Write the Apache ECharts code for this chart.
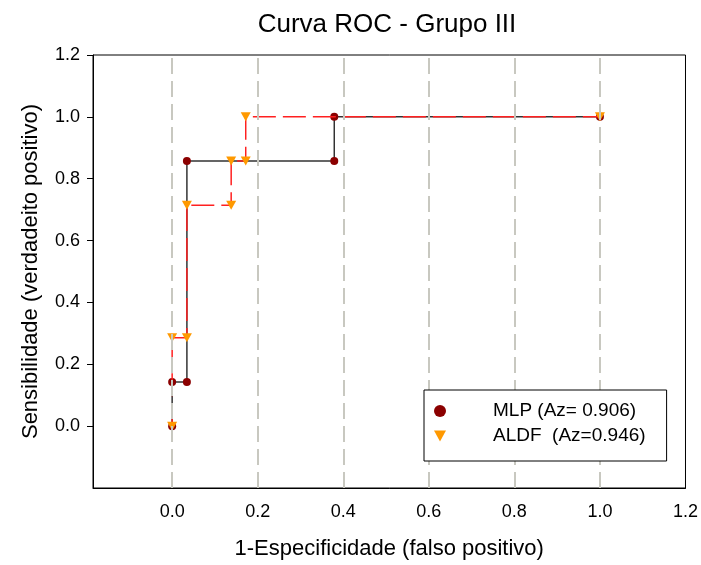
<!DOCTYPE html>
<html><head><meta charset="utf-8">
<script src="https://cdn.jsdelivr.net/npm/echarts@6/dist/echarts.min.js"></script>
<style>html,body{margin:0;padding:0;background:#fff}#c{width:701px;height:565px}</style>
</head><body><div id="c"></div>
<script>
var mlpX = [0, 0, 0.0345, 0.0345, 0.379, 0.379, 1.0];
var mlpY = [0, 0.143, 0.143, 0.857, 0.857, 1.0, 1.0];
var aldfX = [0, 0, 0.0345, 0.0345, 0.138, 0.138, 0.172, 0.172, 1.0];
var aldfY = [0, 0.286, 0.286, 0.714, 0.714, 0.857, 0.857, 1.0, 1.0];
var xTicks = [0, 0.2, 0.4, 0.6, 0.8, 1.0, 1.2];
var xGridLines = [0, 0.2, 0.4, 0.6, 0.8, 1.0];
var seriesNames = ['MLP (Az= 0.906)', 'ALDF  (Az=0.946)'];
var titleText = 'Curva ROC - Grupo III';
var xName = '1-Especificidade (falso positivo)';
var yName = 'Sensibilidade (verdadeito positivo)';

function pairs(xs, ys){ return xs.map(function(x,i){ return [x, ys[i]]; }); }
var tri = 'path://M0,0 L10,0 L5,9 Z';
var font = 'Liberation Sans, Arial, sans-serif';
var chart = echarts.init(document.getElementById('c'));
chart.setOption({
  animation: false,
  title: { text: titleText, left: 382, textAlign: 'center', top: 7,
    textStyle: { fontFamily: font, fontSize: 26, fontWeight: 'normal', color: '#000' } },
  grid: { left: 93, right: 15, top: 55, bottom: 77, show: true, borderColor: '#000', borderWidth: 1 },
  legend: {
    left: 424, top: 390, orient: 'vertical', z: 10,
    padding: [11, 21, 15, 10], itemGap: 5, itemWidth: 12, itemHeight: 12,
    borderColor: '#000', borderWidth: 1, backgroundColor: '#fff',
    textStyle: { fontFamily: font, fontSize: 19, lineHeight: 20, color: '#000', padding: [0, 0, 0, 42] },
    data: [
      { name: seriesNames[0], icon: 'circle', itemStyle: { color: '#8b0000' } },
      { name: seriesNames[1], icon: tri, itemStyle: { color: '#ff9900' } }
    ]
  },
  xAxis: {
    type: 'value', min: -0.185, max: 1.2,
    name: xName, nameLocation: 'middle', nameGap: 50,
    nameTextStyle: { fontFamily: font, fontSize: 22, color: '#000' },
    axisLine: { onZero: false, lineStyle: { color: '#000', width: 1 } },
    axisTick: { inside: true, length: 7, customValues: xTicks, lineStyle: { color: '#000' } },
    axisLabel: { fontFamily: font, fontSize: 18, color: '#000', margin: 15, customValues: xTicks,
      formatter: function(v){ return v.toFixed(1); } },
    splitLine: { show: false }
  },
  yAxis: {
    type: 'value', min: -0.2, max: 1.2, interval: 0.2,
    name: yName, nameLocation: 'middle', nameGap: 51,
    nameTextStyle: { fontFamily: font, fontSize: 22, color: '#000' },
    axisLine: { onZero: false, lineStyle: { color: '#000', width: 1 } },
    axisTick: { inside: false, length: 6, lineStyle: { color: '#000' } },
    axisLabel: { fontFamily: font, fontSize: 18, color: '#000', margin: 13, showMinLabel: false,
      formatter: function(v){ return v.toFixed(1); } },
    splitLine: { show: false }
  },
  series: [
    { name: 'grid', type: 'line', data: [], z: 1, silent: true,
      markLine: { silent: true, symbol: 'none', label: { show: false },
        lineStyle: { color: '#c8c8c0', width: 2, type: [16, 7] },
        data: xGridLines.map(function(v){ return { xAxis: v }; }) } },
    { name: seriesNames[0], type: 'line', data: pairs(mlpX, mlpY), z: 3,
      symbol: 'circle', symbolSize: 8,
      itemStyle: { color: '#8b0000' },
      lineStyle: { color: '#333', width: 1.5 } },
    { name: seriesNames[1], type: 'line', data: pairs(aldfX, aldfY), z: 4,
      symbol: tri, symbolSize: [10, 9],
      itemStyle: { color: '#ff9900' },
      lineStyle: { color: '#ff2020', width: 1.5, type: [23, 7] } }
  ]
});
</script></body></html>
